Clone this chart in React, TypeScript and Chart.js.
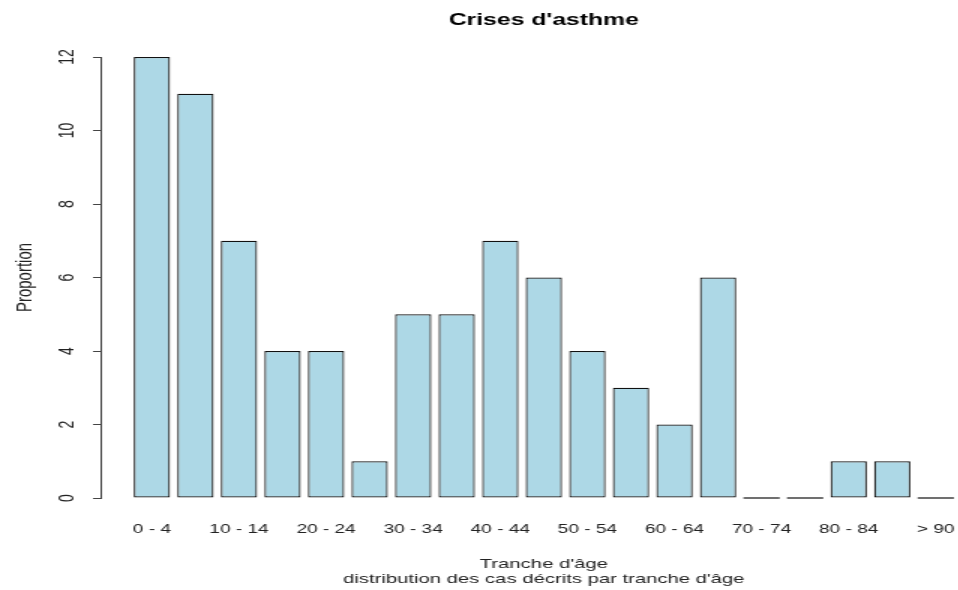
import React, { useEffect, useRef } from 'react';
import { Chart, registerables } from 'chart.js';

Chart.register(...registerables);

// Age bands (5-year groups) and number of asthma attack cases in each
const ageGroups = [
  '0 - 4', '5 - 9', '10 - 14', '15 - 19', '20 - 24', '25 - 29', '30 - 34',
  '35 - 39', '40 - 44', '45 - 49', '50 - 54', '55 - 59', '60 - 64', '65 - 69',
  '70 - 74', '75 - 79', '80 - 84', '85 - 89', '> 90',
];
const cases = [12, 11, 7, 4, 4, 1, 5, 5, 7, 6, 4, 3, 2, 6, 0, 0, 1, 1, 0];

const chartTitle = "Crises d'asthme";
const xTitle = ["Tranche d'âge", "distribution des cas décrits par tranche d'âge"];
const yTitle = 'Proportion';

const FONT = '"Liberation Sans", Arial, Helvetica, sans-serif';
const TEXT = '#222';
const AXIS = '#444';
const BAR_EDGE = '#111';

// Horizontal stretch applied to the drawing surface
const STRETCH = 1.5;
const CANVAS_W = 660;
const CANVAS_H = 590;

// Y tick labels are written parallel to the axis
const rotatedYLabels = {
  id: 'rotatedYLabels',
  afterDraw(chart: any) {
    const y = chart.scales.y;
    const ctx = chart.ctx;
    ctx.save();
    ctx.font = `14px ${FONT}`;
    ctx.fillStyle = TEXT;
    ctx.textAlign = 'center';
    ctx.textBaseline = 'middle';
    y.ticks.forEach((t: any) => {
      const py = y.getPixelForValue(t.value);
      ctx.save();
      ctx.translate(y.right - 22.3, py);
      ctx.rotate(-Math.PI / 2);
      ctx.fillText(String(t.value), 0, 0);
      ctx.restore();
    });
    ctx.restore();
  },
};

// Empty classes are still outlined as a flat bar on the baseline
const flatBars = {
  id: 'flatBars',
  afterDatasetsDraw(chart: any) {
    const meta = chart.getDatasetMeta(0);
    const ctx = chart.ctx;
    ctx.save();
    ctx.strokeStyle = BAR_EDGE;
    ctx.lineWidth = 1.2;
    meta.data.forEach((bar: any, i: number) => {
      if (cases[i] !== 0) return;
      const { x, width, base } = bar.getProps(['x', 'width', 'base'], true);
      ctx.beginPath();
      ctx.moveTo(x - width / 2, base);
      ctx.lineTo(x + width / 2, base);
      ctx.stroke();
    });
    ctx.restore();
  },
};

export default function App() {
  const canvasRef = useRef<HTMLCanvasElement | null>(null);

  useEffect(() => {
    if (!canvasRef.current) return;
    const chart = new Chart(canvasRef.current, {
      type: 'bar',
      data: {
        datasets: [
          {
            data: cases.map((v, i) => ({ x: i, y: v })),
            backgroundColor: '#ADD8E6',
            borderColor: BAR_EDGE,
            borderWidth: 1.2,
            borderSkipped: false,
            barPercentage: 1 / 1.2,
            categoryPercentage: 1,
          },
        ],
      },
      options: {
        animation: false,
        responsive: false,
        devicePixelRatio: 1,
        layout: { padding: 0 },
        font: { family: FONT },
        plugins: {
          legend: { display: false },
          tooltip: { enabled: false },
          title: {
            display: true,
            text: chartTitle,
            fullSize: false,
            color: '#000',
            font: { family: FONT, size: 16.5, weight: 'bold' },
            padding: { top: 11, bottom: 26.2 },
          },
        },
        scales: {
          x: {
            type: 'linear',
            offset: false,
            min: -1.17,
            max: 19.17,
            afterBuildTicks: (scale: any) => {
              scale.ticks = ageGroups.map((_, i) => ({ value: i }));
            },
            afterFit: (scale: any) => {
              scale.height = 92;
            },
            grid: { display: false, drawTicks: false },
            border: { display: false },
            ticks: {
              autoSkip: false,
              maxRotation: 0,
              minRotation: 0,
              padding: 23.5,
              color: TEXT,
              font: { family: FONT, size: 12.7 },
              callback: (value: any) =>
                Number.isInteger(value) && value % 2 === 0 ? ageGroups[value] : '',
            },
            title: {
              display: true,
              text: xTitle,
              color: TEXT,
              font: { family: FONT, size: 13.5, lineHeight: '15.5px' },
              padding: { top: 0, bottom: 2.5 },
            },
          },
          y: {
            min: 0,
            max: 12,
            afterFit: (scale: any) => {
              scale.width = 67.3;
            },
            grid: {
              display: true,
              drawOnChartArea: false,
              drawTicks: true,
              tickLength: 5.3,
              color: AXIS,
              lineWidth: 1,
            },
            border: { display: true, color: AXIS, width: 1 },
            ticks: { display: false, stepSize: 2 },
            title: {
              display: true,
              text: yTitle,
              color: TEXT,
              font: { family: FONT, size: 15 },
              padding: { top: 8, bottom: 0 },
            },
          },
        },
      },
      plugins: [rotatedYLabels, flatBars],
    } as any);
    return () => chart.destroy();
  }, []);

  return (
    <div
      style={{
        position: 'fixed',
        left: 0,
        top: 0,
        width: 958,
        height: 590,
        overflow: 'hidden',
        background: '#fff',
      }}
    >
      <div
        style={{
          width: CANVAS_W,
          height: CANVAS_H,
          transform: `scaleX(${STRETCH})`,
          transformOrigin: '0 0',
        }}
      >
        <canvas ref={canvasRef} width={CANVAS_W} height={CANVAS_H} />
      </div>
    </div>
  );
}
